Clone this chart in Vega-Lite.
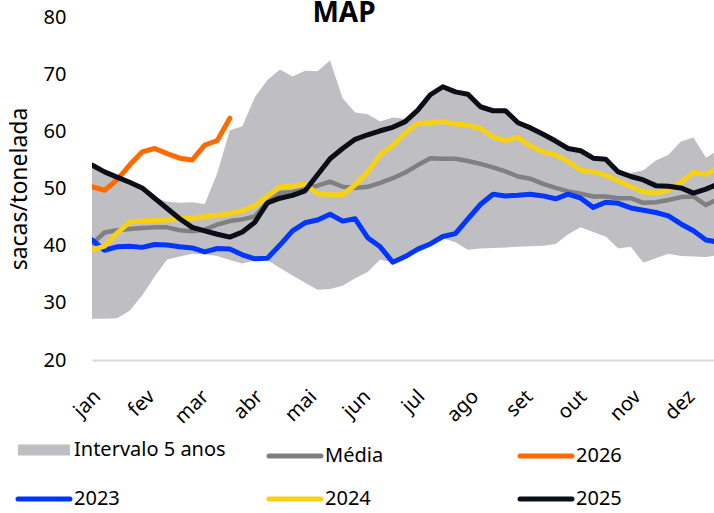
{
  "$schema": "https://vega.github.io/schema/vega-lite/v6.json",
  "width": 622,
  "height": 343,
  "autosize": "none",
  "padding": {"left": 92, "top": 17, "right": 0, "bottom": 153},
  "config": {"view": {"stroke": null}, "font": "Noto Sans"},
  "title": {"text": "MAP", "anchor": "middle", "dx": -59, "fontSize": 28, "fontWeight": "bold", "color": "#000000", "font": "Noto Sans", "offset": -21},
  "datasets": {
    "banda": [
      {"s":1,"lo":27.2,"hi":54.3,"serie":"Intervalo 5 anos"},{"s":2,"lo":27.2,"hi":53.1,"serie":"Intervalo 5 anos"},{"s":3,"lo":27.3,"hi":52.2,"serie":"Intervalo 5 anos"},{"s":4,"lo":28.6,"hi":51.3,"serie":"Intervalo 5 anos"},{"s":5,"lo":31.3,"hi":50.3,"serie":"Intervalo 5 anos"},{"s":6,"lo":34.6,"hi":48.4,"serie":"Intervalo 5 anos"},{"s":7,"lo":37.6,"hi":47.7,"serie":"Intervalo 5 anos"},{"s":8,"lo":38.1,"hi":47.5,"serie":"Intervalo 5 anos"},{"s":9,"lo":38.6,"hi":47.6,"serie":"Intervalo 5 anos"},{"s":10,"lo":38.5,"hi":47.3,"serie":"Intervalo 5 anos"},
      {"s":11,"lo":38.2,"hi":52.7,"serie":"Intervalo 5 anos"},{"s":12,"lo":37.5,"hi":60.2,"serie":"Intervalo 5 anos"},{"s":13,"lo":36.9,"hi":60.9,"serie":"Intervalo 5 anos"},{"s":14,"lo":37.4,"hi":66.0,"serie":"Intervalo 5 anos"},{"s":15,"lo":37.5,"hi":69.0,"serie":"Intervalo 5 anos"},{"s":16,"lo":36.1,"hi":70.8,"serie":"Intervalo 5 anos"},{"s":17,"lo":34.8,"hi":69.6,"serie":"Intervalo 5 anos"},{"s":18,"lo":33.5,"hi":70.6,"serie":"Intervalo 5 anos"},{"s":19,"lo":32.3,"hi":70.5,"serie":"Intervalo 5 anos"},{"s":20,"lo":32.4,"hi":72.4,"serie":"Intervalo 5 anos"},
      {"s":21,"lo":33.0,"hi":65.8,"serie":"Intervalo 5 anos"},{"s":22,"lo":34.3,"hi":63.3,"serie":"Intervalo 5 anos"},{"s":23,"lo":35.4,"hi":63.0,"serie":"Intervalo 5 anos"},{"s":24,"lo":37.6,"hi":61.7,"serie":"Intervalo 5 anos"},{"s":25,"lo":37.0,"hi":62.4,"serie":"Intervalo 5 anos"},{"s":26,"lo":37.9,"hi":62.2,"serie":"Intervalo 5 anos"},{"s":27,"lo":39.2,"hi":63.9,"serie":"Intervalo 5 anos"},{"s":28,"lo":40.2,"hi":66.6,"serie":"Intervalo 5 anos"},{"s":29,"lo":41.3,"hi":68.0,"serie":"Intervalo 5 anos"},{"s":30,"lo":40.6,"hi":67.1,"serie":"Intervalo 5 anos"},
      {"s":31,"lo":39.3,"hi":66.7,"serie":"Intervalo 5 anos"},{"s":32,"lo":39.5,"hi":64.5,"serie":"Intervalo 5 anos"},{"s":33,"lo":39.6,"hi":63.8,"serie":"Intervalo 5 anos"},{"s":34,"lo":39.7,"hi":63.8,"serie":"Intervalo 5 anos"},{"s":35,"lo":39.8,"hi":61.7,"serie":"Intervalo 5 anos"},{"s":36,"lo":39.9,"hi":60.8,"serie":"Intervalo 5 anos"},{"s":37,"lo":40.0,"hi":59.7,"serie":"Intervalo 5 anos"},{"s":38,"lo":40.3,"hi":58.5,"serie":"Intervalo 5 anos"},{"s":39,"lo":42.0,"hi":57.2,"serie":"Intervalo 5 anos"},{"s":40,"lo":43.2,"hi":56.8,"serie":"Intervalo 5 anos"},
      {"s":41,"lo":42.4,"hi":55.5,"serie":"Intervalo 5 anos"},{"s":42,"lo":41.6,"hi":55.3,"serie":"Intervalo 5 anos"},{"s":43,"lo":39.5,"hi":53.1,"serie":"Intervalo 5 anos"},{"s":44,"lo":39.8,"hi":52.7,"serie":"Intervalo 5 anos"},{"s":45,"lo":37.0,"hi":53.2,"serie":"Intervalo 5 anos"},{"s":46,"lo":37.8,"hi":54.9,"serie":"Intervalo 5 anos"},{"s":47,"lo":38.6,"hi":55.9,"serie":"Intervalo 5 anos"},{"s":48,"lo":38.2,"hi":58.2,"serie":"Intervalo 5 anos"},{"s":49,"lo":38.1,"hi":58.9,"serie":"Intervalo 5 anos"},{"s":50,"lo":38.0,"hi":55.4,"serie":"Intervalo 5 anos"},
      {"s":51,"lo":38.4,"hi":56.7,"serie":"Intervalo 5 anos"}
    ],
    "media": [
      {"s":1,"v":40.3},{"s":2,"v":42.3},{"s":3,"v":42.7},{"s":4,"v":42.9},{"s":5,"v":43.1},{"s":6,"v":43.2},{"s":7,"v":43.2},{"s":8,"v":42.7},{"s":9,"v":42.5},{"s":10,"v":42.8},
      {"s":11,"v":43.7},{"s":12,"v":44.3},{"s":13,"v":44.6},{"s":14,"v":45.1},{"s":15,"v":47.6},{"s":16,"v":49.2},{"s":17,"v":49.4},{"s":18,"v":49.9},{"s":19,"v":50.5},{"s":20,"v":51.2},
      {"s":21,"v":50.3},{"s":22,"v":50.1},{"s":23,"v":50.3},{"s":24,"v":51.0},{"s":25,"v":51.8},{"s":26,"v":52.8},{"s":27,"v":54.1},{"s":28,"v":55.3},{"s":29,"v":55.2},{"s":30,"v":55.2},
      {"s":31,"v":54.8},{"s":32,"v":54.3},{"s":33,"v":53.7},{"s":34,"v":53.0},{"s":35,"v":52.1},{"s":36,"v":51.7},{"s":37,"v":50.8},{"s":38,"v":50.1},{"s":39,"v":49.5},{"s":40,"v":49.1},
      {"s":41,"v":48.6},{"s":42,"v":48.6},{"s":43,"v":48.3},{"s":44,"v":48.3},{"s":45,"v":47.5},{"s":46,"v":47.6},{"s":47,"v":48.0},{"s":48,"v":48.5},{"s":49,"v":48.6},{"s":50,"v":47.1},
      {"s":51,"v":48.2}
    ],
    "a2023": [
      {"s":1,"v":41.0},{"s":2,"v":39.2},{"s":3,"v":39.8},{"s":4,"v":39.9},{"s":5,"v":39.7},{"s":6,"v":40.2},{"s":7,"v":40.1},{"s":8,"v":39.8},{"s":9,"v":39.6},{"s":10,"v":38.9},
      {"s":11,"v":39.5},{"s":12,"v":39.4},{"s":13,"v":38.4},{"s":14,"v":37.7},{"s":15,"v":37.8},{"s":16,"v":40.1},{"s":17,"v":42.6},{"s":18,"v":44.0},{"s":19,"v":44.5},{"s":20,"v":45.5},
      {"s":21,"v":44.3},{"s":22,"v":44.7},{"s":23,"v":41.4},{"s":24,"v":39.8},{"s":25,"v":37.1},{"s":26,"v":38.1},{"s":27,"v":39.4},{"s":28,"v":40.3},{"s":29,"v":41.6},{"s":30,"v":42.1},
      {"s":31,"v":44.7},{"s":32,"v":47.2},{"s":33,"v":49.0},{"s":34,"v":48.7},{"s":35,"v":48.8},{"s":36,"v":49.0},{"s":37,"v":48.7},{"s":38,"v":48.2},{"s":39,"v":49.0},{"s":40,"v":48.3},
      {"s":41,"v":46.7},{"s":42,"v":47.6},{"s":43,"v":47.4},{"s":44,"v":46.6},{"s":45,"v":46.2},{"s":46,"v":45.8},{"s":47,"v":45.2},{"s":48,"v":43.8},{"s":49,"v":42.6},{"s":50,"v":41.0},
      {"s":51,"v":40.6}
    ],
    "a2024": [
      {"s":1,"v":39.2},{"s":2,"v":39.9},{"s":3,"v":42.2},{"s":4,"v":44.1},{"s":5,"v":44.3},{"s":6,"v":44.4},{"s":7,"v":44.5},{"s":8,"v":44.7},{"s":9,"v":44.8},{"s":10,"v":45.1},
      {"s":11,"v":45.3},{"s":12,"v":45.6},{"s":13,"v":46.1},{"s":14,"v":47.0},{"s":15,"v":48.7},{"s":16,"v":50.3},{"s":17,"v":50.4},{"s":18,"v":50.8},{"s":19,"v":49.1},{"s":20,"v":48.9},
      {"s":21,"v":48.9},{"s":22,"v":50.6},{"s":23,"v":52.9},{"s":24,"v":55.9},{"s":25,"v":57.5},{"s":26,"v":59.7},{"s":27,"v":61.4},{"s":28,"v":61.5},{"s":29,"v":61.7},{"s":30,"v":61.3},
      {"s":31,"v":61.1},{"s":32,"v":60.5},{"s":33,"v":59.0},{"s":34,"v":58.4},{"s":35,"v":58.9},{"s":36,"v":57.4},{"s":37,"v":56.4},{"s":38,"v":55.9},{"s":39,"v":54.7},{"s":40,"v":53.2},
      {"s":41,"v":52.9},{"s":42,"v":52.3},{"s":43,"v":51.3},{"s":44,"v":50.3},{"s":45,"v":49.4},{"s":46,"v":49.2},{"s":47,"v":49.7},{"s":48,"v":51.1},{"s":49,"v":52.8},{"s":50,"v":52.5},
      {"s":51,"v":53.6}
    ],
    "a2025": [
      {"s":1,"v":54.1},{"s":2,"v":52.9},{"s":3,"v":52.0},{"s":4,"v":51.1},{"s":5,"v":50.1},{"s":6,"v":48.3},{"s":7,"v":46.5},{"s":8,"v":44.7},{"s":9,"v":43.2},{"s":10,"v":42.6},
      {"s":11,"v":42.0},{"s":12,"v":41.5},{"s":13,"v":42.4},{"s":14,"v":44.1},{"s":15,"v":47.5},{"s":16,"v":48.3},{"s":17,"v":48.8},{"s":18,"v":49.6},{"s":19,"v":52.4},{"s":20,"v":55.2},
      {"s":21,"v":57.0},{"s":22,"v":58.6},{"s":23,"v":59.4},{"s":24,"v":60.1},{"s":25,"v":60.7},{"s":26,"v":61.7},{"s":27,"v":63.7},{"s":28,"v":66.4},{"s":29,"v":67.8},{"s":30,"v":66.9},
      {"s":31,"v":66.5},{"s":32,"v":64.3},{"s":33,"v":63.6},{"s":34,"v":63.6},{"s":35,"v":61.5},{"s":36,"v":60.6},{"s":37,"v":59.5},{"s":38,"v":58.3},{"s":39,"v":57.0},{"s":40,"v":56.6},
      {"s":41,"v":55.3},{"s":42,"v":55.1},{"s":43,"v":52.9},{"s":44,"v":52.1},{"s":45,"v":51.5},{"s":46,"v":50.5},{"s":47,"v":50.4},{"s":48,"v":50.1},{"s":49,"v":49.2},{"s":50,"v":49.9},
      {"s":51,"v":50.8}
    ],
    "a2026": [
      {"s":1,"v":50.3},{"s":2,"v":49.7},{"s":3,"v":51.5},{"s":4,"v":54.1},{"s":5,"v":56.4},{"s":6,"v":57.0},{"s":7,"v":56.1},{"s":8,"v":55.3},{"s":9,"v":55.0},{"s":10,"v":57.6},
      {"s":11,"v":58.4},{"s":12,"v":62.3}
    ]
  },
  "encoding": {
    "x": {
      "field": "s", "type": "quantitative",
      "scale": {"domain": [1, 50.64], "nice": false, "zero": false},
      "axis": {
        "title": null, "grid": false, "ticks": false,
        "domainColor": "#d9d9d9", "domainWidth": 2,
        "values": [1.48, 5.79, 10.1, 14.41, 18.72, 23.03, 27.34, 31.65, 35.96, 40.27, 44.58, 48.89],
        "labelExpr": "['jan','fev','mar','abr','mai','jun','jul','ago','set','out','nov','dez'][round((datum.value-1.48)/4.31)]",
        "labelAngle": -45, "labelFontSize": 20, "labelColor": "#000000", "labelPadding": 26, "labelOffset": -8,
        "labelFont": "Noto Sans", "labelFlush": false, "labelOverlap": false
      }
    }
  },
  "layer": [
    {
      "data": {"name": "banda"},
      "mark": {"type": "area", "color": "#bfbfc3", "clip": true},
      "encoding": {
        "y": {
          "field": "lo", "type": "quantitative",
          "scale": {"domain": [20, 80], "nice": false, "zero": false},
          "axis": {
            "title": "sacas/tonelada", "titleFontSize": 23, "titleFontWeight": "normal", "titleColor": "#000000",
            "titleFont": "Noto Sans", "titlePadding": 12,
            "values": [20, 30, 40, 50, 60, 70, 80], "grid": false, "ticks": false, "domain": false,
            "labelFontSize": 20, "labelColor": "#000000", "labelPadding": 26, "labelFont": "Noto Sans"
          }
        },
        "y2": {"field": "hi"},
        "color": {
          "field": "serie", "type": "nominal",
          "scale": {
            "domain": ["Intervalo 5 anos", "Média", "2026", "2023", "2024", "2025"],
            "range": ["#bfbfc3", "#808080", "#ff6a00", "#0036ff", "#f7d116", "#0b0d17"]
          },
          "legend": {
            "title": null, "orient": "none", "legendX": -58, "legendY": 423,
            "direction": "horizontal", "columns": 3, "gridAlign": "all",
            "columnPadding": 33, "rowPadding": 17,
            "symbolType": "stroke", "symbolSize": 2700, "symbolStrokeWidth": 5,
            "labelFontSize": 20, "labelColor": "#000000", "labelFont": "Noto Sans", "labelOffset": 20, "labelLimit": 300,
            "encode": {
              "symbols": {
                "update": {
                  "fill": {"value": "transparent"},
                  "stroke": {"scale": "color", "field": "value"},
                  "strokeWidth": {"signal": "datum.value === 'Intervalo 5 anos' ? 11 : 5"},
                  "strokeCap": {"signal": "datum.value === 'Intervalo 5 anos' ? 'butt' : 'round'"},
                  "shape": {"value": "stroke"},
                  "opacity": {"value": 1}
                }
              }
            }
          }
        }
      }
    },
    {
      "data": {"name": "media"},
      "mark": {"type": "line", "color": "#808080", "strokeWidth": 4.5, "strokeJoin": "round", "strokeCap": "round", "clip": true},
      "encoding": {"y": {"field": "v", "type": "quantitative"}, "color": {"datum": "Média", "legend": null}}
    },
    {
      "data": {"name": "a2023"},
      "mark": {"type": "line", "strokeWidth": 5, "strokeJoin": "round", "strokeCap": "round", "clip": true},
      "encoding": {"y": {"field": "v", "type": "quantitative"}, "color": {"datum": "2023", "legend": null}}
    },
    {
      "data": {"name": "a2024"},
      "mark": {"type": "line", "strokeWidth": 5, "strokeJoin": "round", "strokeCap": "round", "clip": true},
      "encoding": {"y": {"field": "v", "type": "quantitative"}, "color": {"datum": "2024", "legend": null}}
    },
    {
      "data": {"name": "a2026"},
      "mark": {"type": "line", "strokeWidth": 5, "strokeJoin": "round", "strokeCap": "round", "clip": true},
      "encoding": {"y": {"field": "v", "type": "quantitative"}, "color": {"datum": "2026", "legend": null}}
    },
    {
      "data": {"name": "a2025"},
      "mark": {"type": "line", "strokeWidth": 5, "strokeJoin": "round", "strokeCap": "round", "clip": true},
      "encoding": {"y": {"field": "v", "type": "quantitative"}, "color": {"datum": "2025", "legend": null}}
    }
  ]
}
